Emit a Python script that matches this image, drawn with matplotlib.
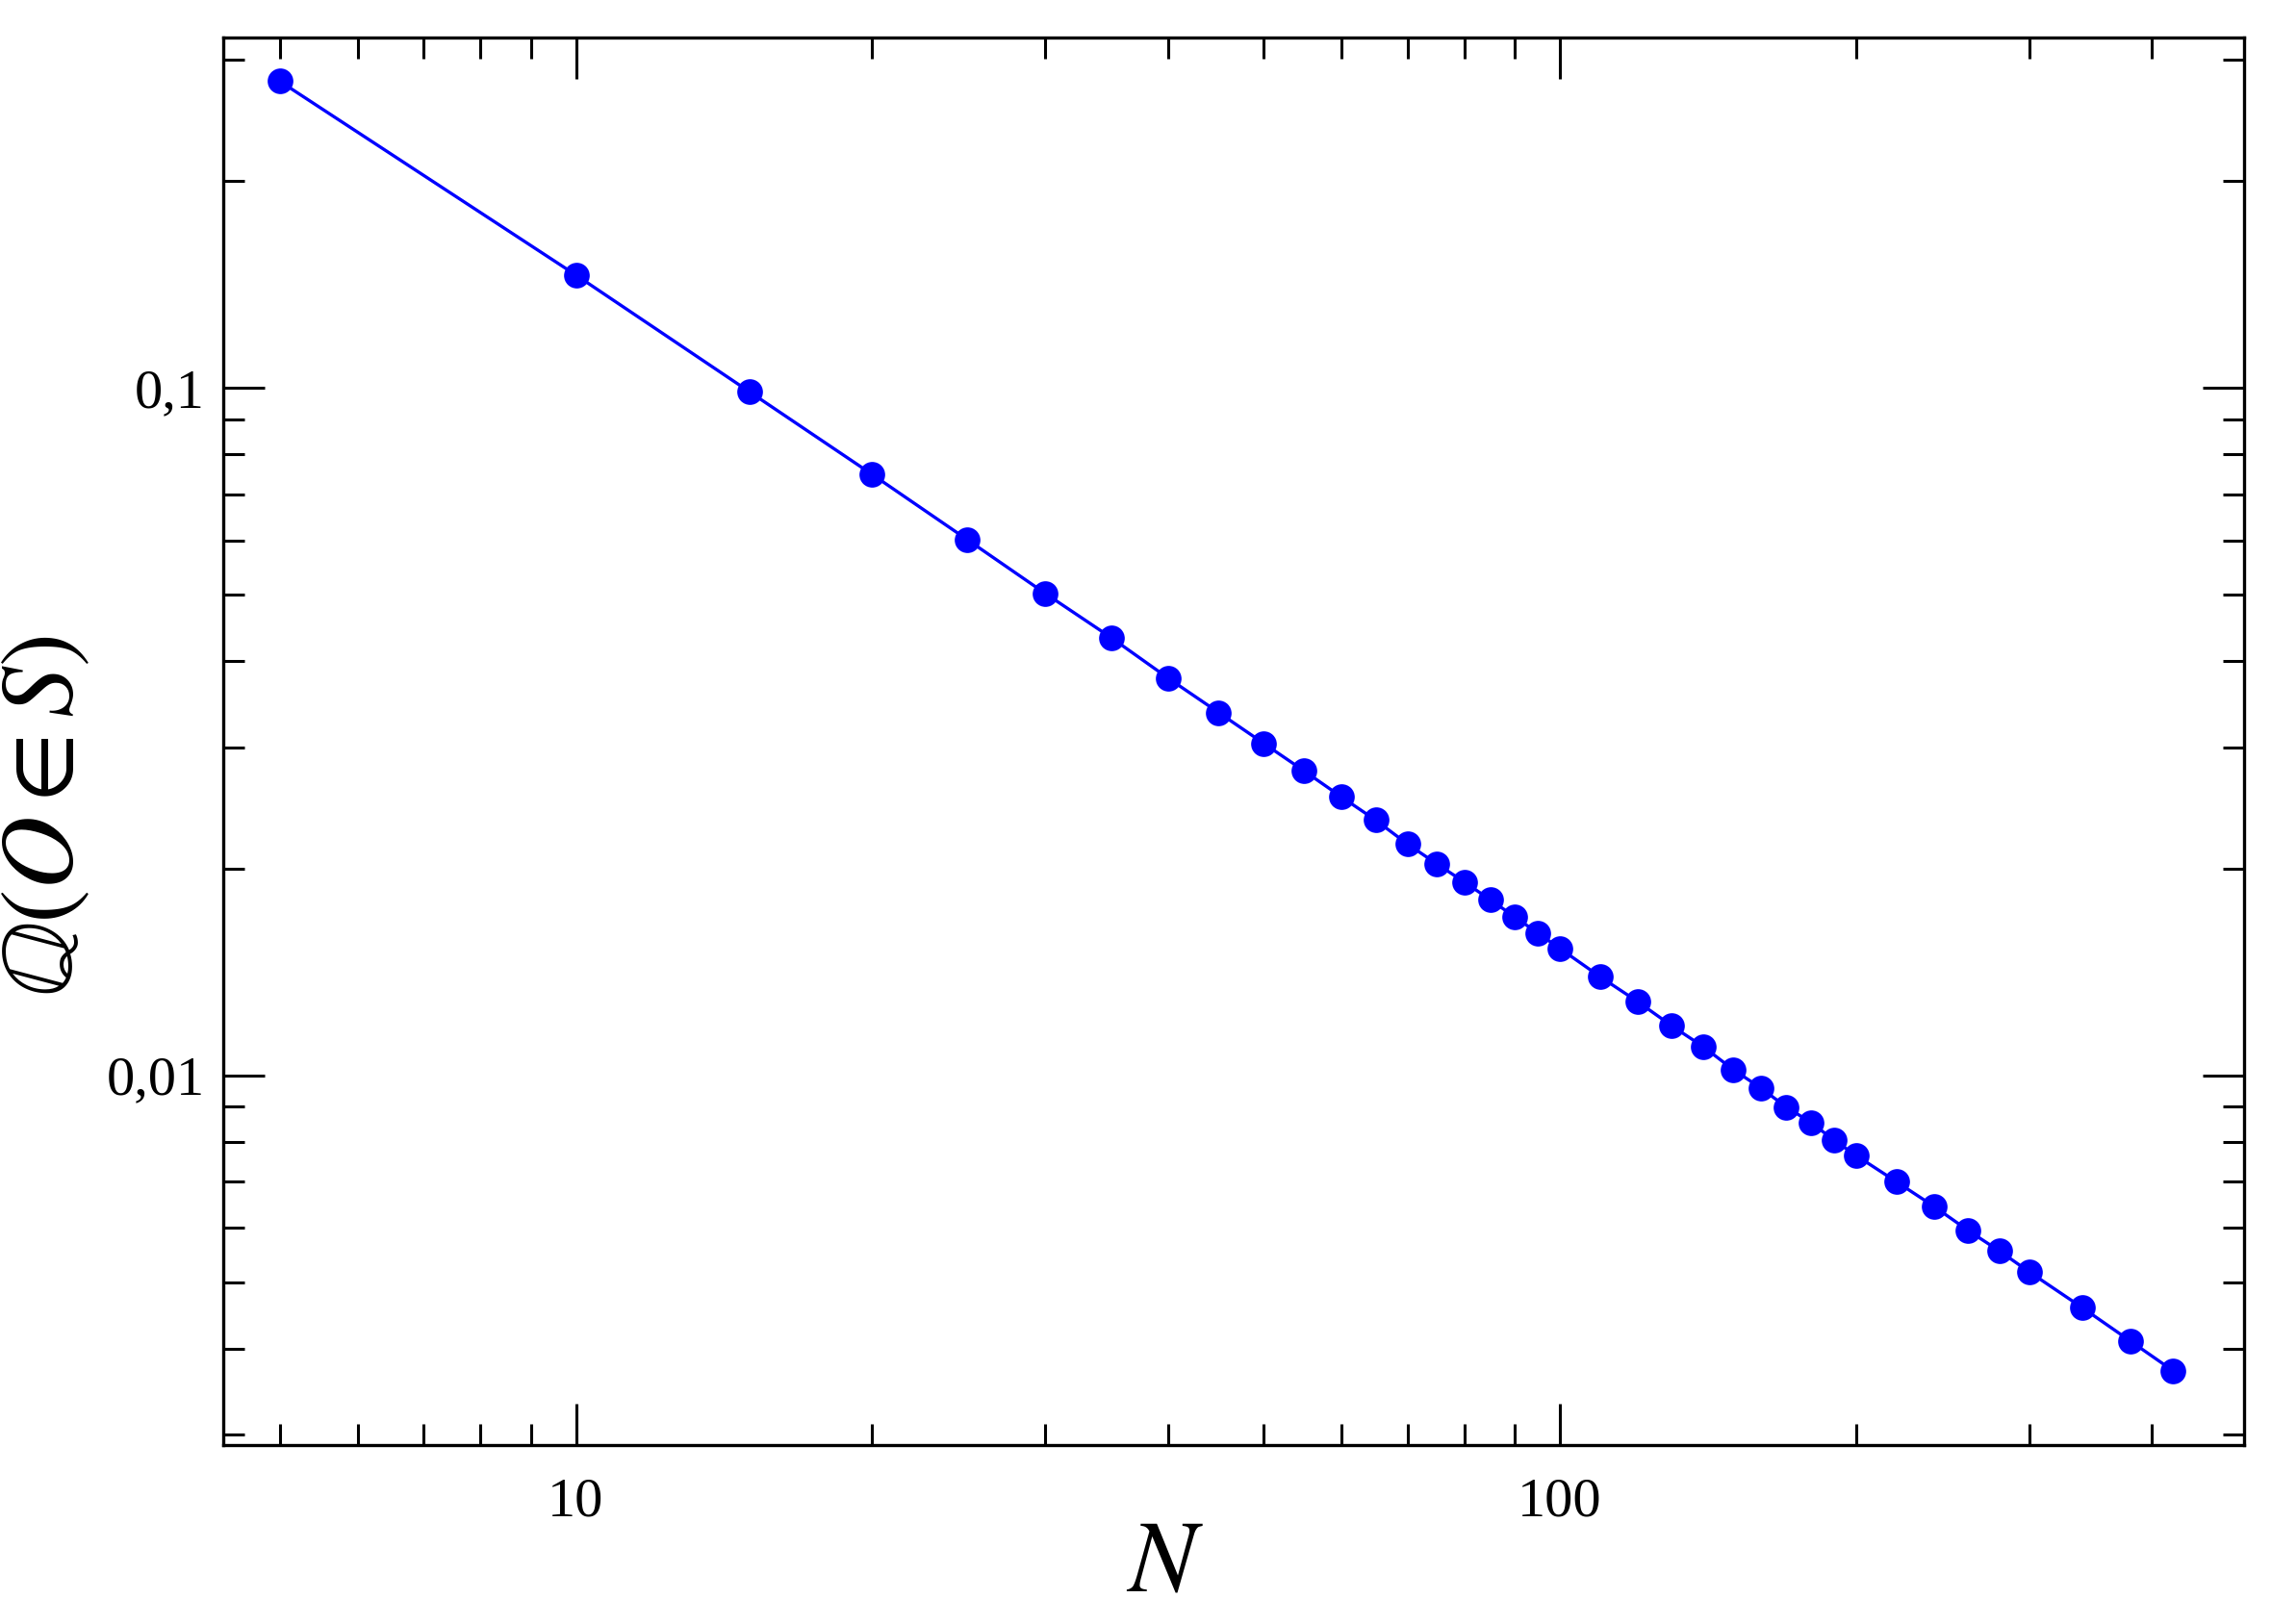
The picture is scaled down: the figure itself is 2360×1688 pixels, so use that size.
import matplotlib
matplotlib.use("Agg")
import matplotlib.pyplot as plt
from matplotlib.ticker import LogLocator, NullFormatter

# data
N = [5, 10, 15, 20, 25, 30, 35, 40, 45, 50, 55, 60, 65, 70, 75, 80, 85, 90, 95, 100,
     110, 120, 130, 140, 150, 160, 170, 180, 190, 200,
     220, 240, 260, 280, 300, 340, 380, 420]
Q = [0.279, 0.1458, 0.0987, 0.0748, 0.0601, 0.0502, 0.0433, 0.0378, 0.0337, 0.0304,
     0.0277, 0.0254, 0.0235, 0.0217, 0.0203, 0.0191, 0.0180, 0.0170, 0.0161, 0.0153,
     0.0139, 0.0128, 0.0118, 0.0110, 0.0102, 0.00959, 0.00899, 0.00854, 0.00805, 0.00765,
     0.00700, 0.00645, 0.00595, 0.00555, 0.00518, 0.00459, 0.00411, 0.00372]

x_ticks = [10, 100]
x_tick_labels = ["10", "100"]
y_ticks = [0.01, 0.1]
y_tick_labels = ["0,01", "0,1"]

plt.rcParams["font.family"] = ["Liberation Serif", "DejaVu Serif"]
plt.rcParams["mathtext.fontset"] = "stix"

fig = plt.figure(figsize=(11.8, 8.44), dpi=200)
ax = fig.add_axes([0.0983, 0.1102, 0.8898, 0.8667])

ax.plot(N, Q, color="#0000ff", linewidth=1.2, marker="o", markersize=8.6,
        markerfacecolor="#0000ff", markeredgecolor="#0000ff")

ax.set_xscale("log")
ax.set_yscale("log")
ax.set_xlim(4.38, 496)
ax.set_ylim(0.0029, 0.323)

ax.set_xticks(x_ticks, x_tick_labels)
ax.set_yticks(y_ticks, y_tick_labels)
ax.xaxis.set_minor_locator(LogLocator(base=10, subs=range(2, 10), numticks=20))
ax.yaxis.set_minor_locator(LogLocator(base=10, subs=range(2, 10), numticks=20))
ax.xaxis.set_minor_formatter(NullFormatter())
ax.yaxis.set_minor_formatter(NullFormatter())

ax.tick_params(which="both", direction="in", top=True, right=True, width=1.1)
ax.tick_params(which="major", length=15.5, labelsize=21)
ax.tick_params(which="minor", length=8)
ax.tick_params(axis="x", which="major", pad=12)
ax.tick_params(axis="y", which="major", pad=7)

for s in ax.spines.values():
    s.set_linewidth(1.2)

# x label sits close to the bottom edge, as in the original
ax.set_xlabel(r"$N$", fontsize=38, va="top")
ax.xaxis.set_label_coords(0.466, -0.053)
ax.set_ylabel(r"$\mathbb{Q}(O\in S)$", fontsize=38, va="center")
ax.yaxis.set_label_coords(-0.087, 0.447)

fig.savefig("out.png", dpi=200)
